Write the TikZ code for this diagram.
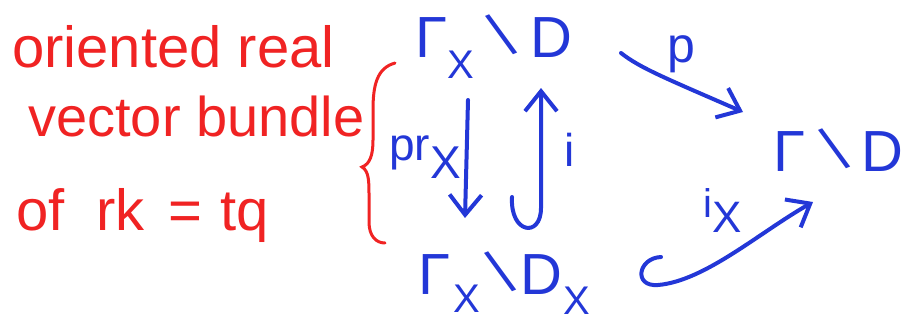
\documentclass[tikz,border=0pt]{standalone}
\usepackage{fontspec}
\setmainfont{Liberation Sans}
\usetikzlibrary{arrows.meta}
\definecolor{pen red}{RGB}{240,35,35}
\definecolor{pen blue}{RGB}{35,55,215}
% \lowsub{size}{drop}{text}
\newcommand{\lowsub}[3]{\raisebox{-#2pt}{\fontsize{#1}{#1}\selectfont #3}}
\newcommand{\bigbsl}{\rotatebox[origin=c]{22}{\scalebox{1}[1.08]{\textbackslash}}}
\tikzset{
  redtext/.style={text=pen red, inner sep=0pt},
  bluetext/.style={text=pen blue, inner sep=0pt},
  bluearrow/.style={draw=pen blue, line width=4pt, line cap=round, line join=round,
    -{Straight Barb[length=20pt,width=32pt,line width=4pt]}},
}
\begin{document}
\begin{tikzpicture}[x=1pt,y=-1pt]
\useasboundingbox (0,0) rectangle (909,327);
% red text
\node[redtext, anchor=base west, font=\fontsize{58}{58}\selectfont] (l1) at (12,67) {oriented real};
\node[redtext, anchor=base west, font=\fontsize{56}{56}\selectfont] (l2) at (28,136) {vector bundle};
\node[redtext, anchor=base west, font=\fontsize{58}{58}\selectfont] (l3) at (16,230) {of\hspace{32pt}rk\hspace{24pt}=\hspace{18pt}tq};
% brace
\draw[pen red, line width=3pt, line cap=round] (395,63) .. controls (377,68) and (373,85) .. (373,110)
  -- (373,140) .. controls (373,155) and (370,164) .. (362,167)
  .. controls (369,171) and (369,182) .. (369,195) -- (369,222) .. controls (369,236) and (376,243) .. (385,243);
% blue nodes
\node[bluetext, anchor=base west, font=\fontsize{58}{58}\selectfont] (top) at (415,57)
  {Γ\lowsub{40}{21}{X}\hspace{12pt}\bigbsl\hspace{12pt}D};
\node[bluetext, anchor=base west, font=\fontsize{58}{58}\selectfont] (right) at (773,171)
  {Γ\hspace{13pt}\bigbsl\hspace{11pt}D};
\node[bluetext, anchor=base west, font=\fontsize{58}{58}\selectfont] (bot) at (418,294)
  {Γ\hspace{3pt}\lowsub{40}{18}{X}\hspace{5pt}\bigbsl\hspace{3pt}D\hspace{2pt}\lowsub{40}{20}{X}};
% coordinates
\coordinate (prs) at (468,100);
\coordinate (pre) at (465,218);
\coordinate (is) at (512,197);
\coordinate (ie) at (541,88);
\coordinate (ps) at (621,53);
\coordinate (pe) at (743,112);
\coordinate (ixs) at (661,257);
\coordinate (ixe) at (813,202);
% arrows
\draw[bluearrow] (prs) -- (pre);
\draw[bluearrow] (is) .. controls (510,234) and (541,238) .. (541,208) -- (ie);
\draw[bluearrow] (ps) .. controls (640,68) and (665,78) .. (pe);
\draw[bluearrow] (ixs) .. controls (638,258) and (633,287) .. (658,285) .. controls (705,281) and (760,232) .. (ixe);
% labels
\node[bluetext, anchor=base west, font=\fontsize{46}{46}\selectfont] (prl) at (389,160)
  {pr\lowsub{46}{18}{X}};
\node[bluetext, font=\fontsize{46}{46}\selectfont] (il) at (570,150) {i};
\node[bluetext, font=\fontsize{50}{50}\selectfont] (pl) at (681,54) {p};
\node[bluetext, anchor=base west, font=\fontsize{40}{40}\selectfont] (ixl) at (703,217)
  {i\lowsub{44}{15}{X}};
\end{tikzpicture}
\end{document}
